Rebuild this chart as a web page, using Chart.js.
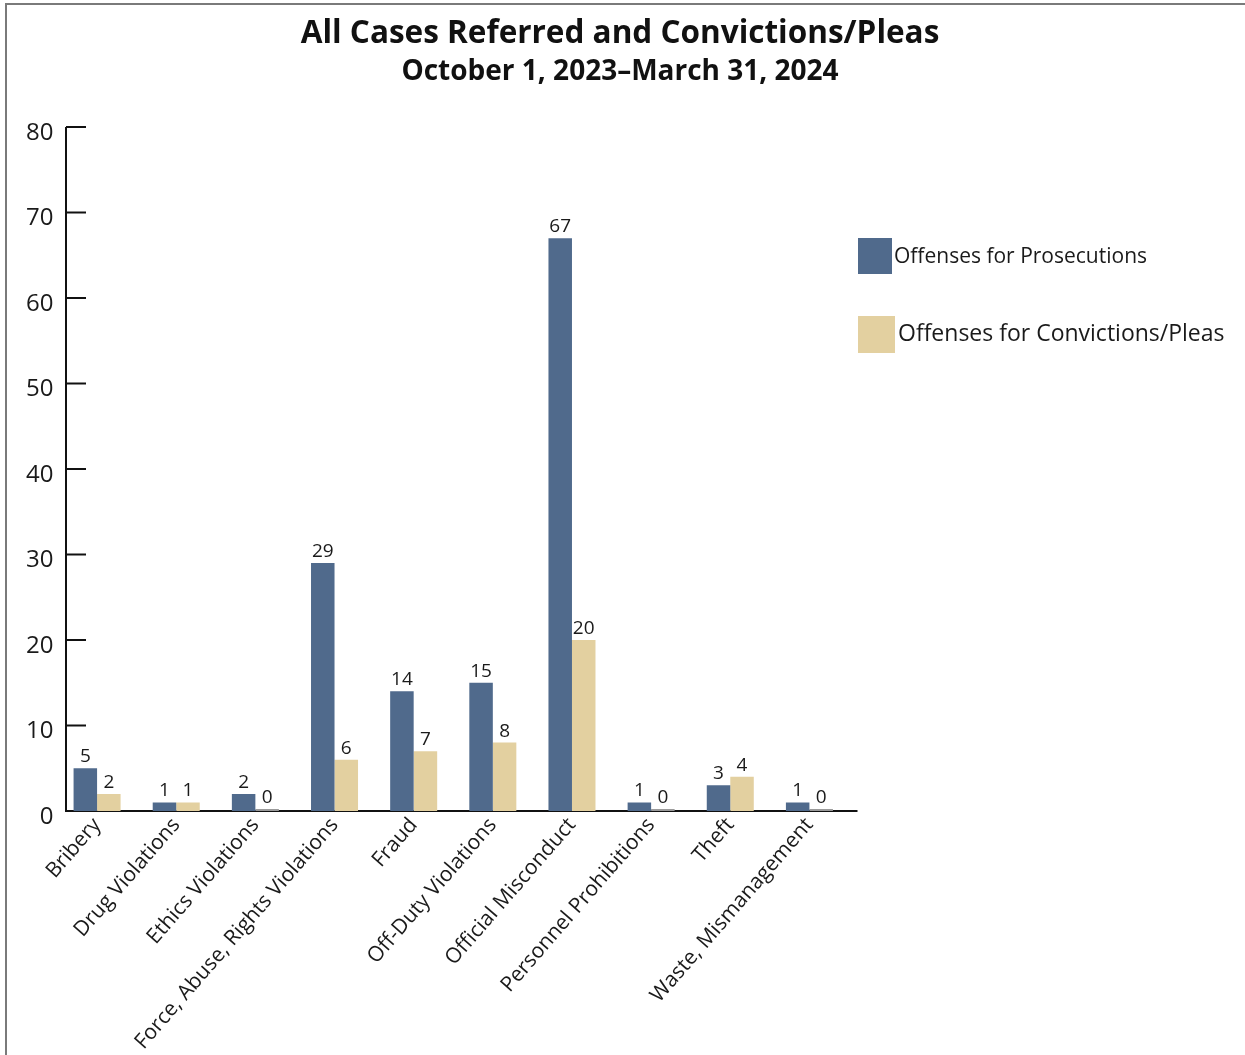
<!DOCTYPE html>
<html>
<head>
<meta charset="utf-8">
<script src="https://cdn.jsdelivr.net/npm/chart.js@4.4.1/dist/chart.umd.min.js"></script>
<style>
  html, body { margin: 0; padding: 0; background: #fff; overflow: hidden; }
  #frame { position: absolute; left: 5px; top: 3px; width: 1400px; height: 1200px;
           border-left: 2px solid #7a7a7a; border-top: 2px solid #7a7a7a; pointer-events: none; }
  #wrap { position: absolute; left: 0; top: 0; width: 1245px; height: 1055px; }
</style>
</head>
<body>
<div id="wrap"><canvas id="myChart"></canvas></div>
<div id="frame"></div>
<script>
const categories = ["Bribery", "Drug Violations", "Ethics Violations", "Force, Abuse, Rights Violations",
    "Fraud", "Off-Duty Violations", "Official Misconduct", "Personnel Prohibitions", "Theft", "Waste, Mismanagement"];
const prosecutions = [5, 1, 2, 29, 14, 15, 67, 1, 3, 1];
const convictions = [2, 1, 0, 6, 7, 8, 20, 0, 4, 0];
const yTicks = [0, 10, 20, 30, 40, 50, 60, 70, 80];
const seriesNames = ["Offenses for Prosecutions", "Offenses for Convictions/Pleas"];
const titleText = "All Cases Referred and Convictions/Pleas";
const subtitleText = "October 1, 2023\u2013March 31, 2024";

const BLUE = '#506a8c';
const TAN = '#e3d0a0';
const FONT = '"Open Sans", "Noto Sans", sans-serif';

// axes, value labels, titles and legend drawn by hand
const axisPlugin = {
    id: 'axisLines',
    beforeDatasetsDraw(chart) {
        const ctx = chart.ctx;
        const ca = chart.chartArea;
        const y = chart.scales.y;
        const x0 = ca.left + 8.5;
        ctx.save();
        ctx.strokeStyle = '#111';
        ctx.lineWidth = 2;
        ctx.beginPath();
        ctx.moveTo(x0, y.getPixelForValue(80));
        ctx.lineTo(x0, y.getPixelForValue(0));
        ctx.lineTo(ca.right + 8.5, y.getPixelForValue(0));
        ctx.stroke();
        yTicks.forEach(v => {
            if (v === 0) return;
            const py = y.getPixelForValue(v);
            ctx.beginPath();
            ctx.moveTo(x0, py);
            ctx.lineTo(x0 + 20, py);
            ctx.stroke();
        });
        ctx.restore();
    },
    afterDatasetsDraw(chart) {
        const ctx = chart.ctx;
        ctx.save();
        ctx.fillStyle = '#1a1a1a';
        ctx.font = '19px ' + FONT;
        ctx.textAlign = 'center';
        ctx.textBaseline = 'bottom';
        chart.data.datasets.forEach((ds, i) => {
            chart.getDatasetMeta(i).data.forEach((bar, j) => {
                ctx.fillText(String(ds.data[j]), bar.x, bar.y - 2);
            });
        });
        // titles
        ctx.fillStyle = '#111';
        ctx.textBaseline = 'middle';
        ctx.font = 'bold 31.5px ' + FONT;
        ctx.fillText(titleText, 620, 34);
        ctx.font = 'bold 28px ' + FONT;
        ctx.fillText(subtitleText, 620, 72);
        // legend
        ctx.textAlign = 'left';
        ctx.fillStyle = BLUE;
        ctx.fillRect(858, 238, 34, 36);
        ctx.fillStyle = TAN;
        ctx.fillRect(858, 316, 37, 37);
        ctx.fillStyle = '#1a1a1a';
        ctx.font = '21px ' + FONT;
        ctx.fillText(seriesNames[0], 894, 257);
        ctx.font = '23px ' + FONT;
        ctx.fillText(seriesNames[1], 898, 334);
        ctx.restore();
    }
};

const ctx = document.getElementById('myChart').getContext('2d');
const myChart = new Chart(ctx, {
    type: 'bar',
    data: {
        labels: categories,
        datasets: [{
            label: seriesNames[0],
            data: prosecutions,
            backgroundColor: BLUE
        }, {
            label: seriesNames[1],
            data: convictions,
            backgroundColor: c => c.raw === 0 ? '#9a9a9a' : TAN,
            minBarLength: 2
        }]
    },
    options: {
        responsive: true,
        maintainAspectRatio: false,
        animation: false,
        datasets: { bar: { categoryPercentage: 0.594, barPercentage: 1.0 } },
        layout: { padding: { left: 0, right: 396, top: 127, bottom: 0 } },
        plugins: {
            legend: { display: false },
            tooltip: { enabled: false },
            title: { display: false }
        },
        scales: {
            x: {
                grid: { display: false, drawTicks: false },
                border: { display: false },
                ticks: {
                    autoSkip: false,
                    minRotation: 49,
                    maxRotation: 49,
                    color: '#1a1a1a',
                    padding: 2,
                    font: { family: FONT, size: 21 }
                },
                afterFit: s => { s.height = 244; }
            },
            y: {
                min: 0,
                max: 80,
                grid: { display: false, drawTicks: false },
                border: { display: false },
                ticks: {
                    stepSize: 10,
                    color: '#1a1a1a',
                    padding: 4,
                    labelOffset: 6,
                    font: { family: FONT, size: 24 }
                },
                afterFit: s => { s.width = 57.5; }
            }
        }
    },
    plugins: [axisPlugin]
});
</script>
</body>
</html>
